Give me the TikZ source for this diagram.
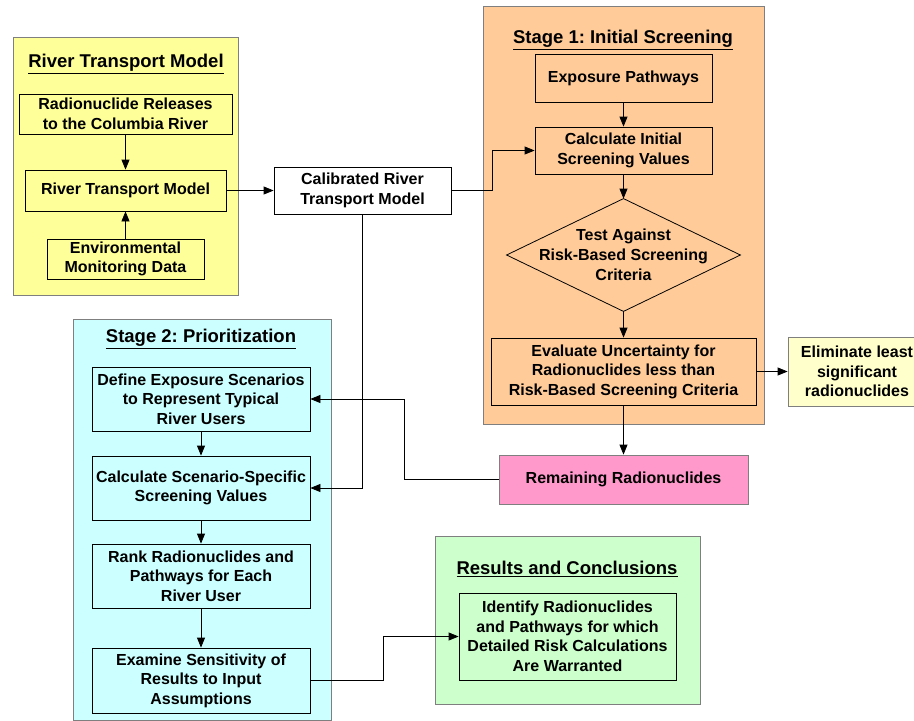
\documentclass[tikz,border=0pt]{standalone}
\usepackage{fontspec}
\setmainfont{Liberation Sans}
\usetikzlibrary{arrows.meta}
\frenchspacing
\definecolor{rtmyellow}{HTML}{FFFF99}
\definecolor{stageorange}{HTML}{FFCC99}
\definecolor{stagecyan}{HTML}{CCFFFF}
\definecolor{remainpink}{HTML}{FF99CC}
\definecolor{resgreen}{HTML}{CCFFCC}
\definecolor{elimyellow}{HTML}{FFFFCC}
\definecolor{framegray}{HTML}{7F7F7F}
\tikzset{
    frame/.style={draw=framegray, line width=0.9pt, inner sep=0pt},
    stepbox/.style={draw, line width=0.8pt, align=center, inner sep=0pt,
        font=\bfseries\fontsize{16}{19.5}\selectfont},
    title/.style={font=\bfseries\fontsize{18.5}{22}\selectfont, inner sep=0pt},
    flow/.style={line width=0.8pt, -{Triangle[length=10pt,width=8pt]}}
}
\begin{document}
\begin{tikzpicture}[x=1pt, y=-1pt]
            \useasboundingbox (0,0) rectangle (914,721);
            % river transport model
            \node [frame, fill=rtmyellow, minimum width=225, minimum height=258] (rtmframe) at (125.5,166) {};
            \node [title] (rtmtitle) at (126,64) {\underline{River Transport Model}};
            \node [stepbox, fill=rtmyellow, minimum width=213, minimum height=40] (releases) at (125.5,114) {Radionuclide Releases\\to the Columbia River};
            \node [stepbox, fill=rtmyellow, minimum width=201, minimum height=41] (rtm) at (125.5,190.5) {River Transport Model};
            \node [stepbox, fill=rtmyellow, minimum width=157, minimum height=40] (envdata) at (125.5,259) {Environmental\\Monitoring Data};
            \node [stepbox, fill=white, minimum width=177, minimum height=47] (calib) at (362.5,190.5) {Calibrated River\\Transport Model};
            % stage 1
            \node [frame, fill=stageorange, minimum width=281, minimum height=418] (s1frame) at (623.5,215) {};
            \node [title] (s1title) at (623,40) {\underline{Stage 1: Initial Screening}};
            \node [stepbox, minimum width=177, minimum height=48] (pathways) at (623.5,78) {Exposure Pathways};
            \node [stepbox, minimum width=177, minimum height=47] (calcinit) at (623.5,150.5) {Calculate Initial\\Screening Values};
            \node [stepbox, draw=none, minimum width=233, minimum height=112, font=\bfseries\fontsize{16}{20}\selectfont] (test) at (623.5,255) {Test Against\\Risk-Based Screening\\Criteria};
            \draw [line width=0.8pt] (test.north) -- (test.east) -- (test.south) -- (test.west) -- cycle;
            \node [stepbox, minimum width=265, minimum height=67] (evaluate) at (623.5,371.5) {Evaluate Uncertainty for\\Radionuclides less than\\Risk-Based Screening Criteria};
            \node [stepbox, draw=framegray, fill=elimyellow, minimum width=138, minimum height=69] (eliminate) at (857,371.5) {Eliminate least\\significant\\radionuclides};
            \node [stepbox, draw=framegray, fill=remainpink, minimum width=249, minimum height=49] (remaining) at (623.5,479.5) {Remaining Radionuclides};
            % stage 2
            \node [frame, fill=stagecyan, minimum width=258, minimum height=401] (s2frame) at (202,519.5) {};
            \node [title] (s2title) at (201,339) {\underline{Stage 2: Prioritization}};
            \node [stepbox, minimum width=218, minimum height=64] (define) at (201,399) {Define Exposure Scenarios\\to Represent Typical\\River Users};
            \node [stepbox, minimum width=218, minimum height=64] (calcscen) at (201,488) {Calculate Scenario-Specific\\Screening Values};
            \node [stepbox, minimum width=218, minimum height=64] (rank) at (201,576) {Rank Radionuclides and\\Pathways for Each\\River User};
            \node [stepbox, minimum width=218, minimum height=65] (examine) at (201,680.5) {Examine Sensitivity of\\Results to Input\\Assumptions};
            % results
            \node [frame, fill=resgreen, minimum width=265, minimum height=168] (resframe) at (567.5,620) {};
            \node [title] (restitle) at (567,569) {\underline{Results and Conclusions}};
            \node [stepbox, minimum width=217, minimum height=87] (identify) at (567.5,636.5) {Identify Radionuclides\\and Pathways for which\\Detailed Risk Calculations\\Are Warranted};
            % connectors
            \draw [flow] (releases) -- (rtm);
            \draw [flow] (envdata) -- (rtm);
            \draw [flow] (rtm) -- (calib);
            \draw [flow] (calib.east) -| ([xshift=-42pt]calcinit.west) -- (calcinit.west);
            \draw [flow] (pathways) -- (calcinit);
            \draw [flow] (calcinit) -- (test.north);
            \draw [flow] (test.south) -- (evaluate);
            \draw [flow] (evaluate) -- (eliminate);
            \draw [flow] (evaluate) -- (remaining);
            \draw [flow] (remaining.west) -| ([xshift=94pt]define.east) -- (define.east);
            \draw [flow] (calib.south) |- (calcscen.east);
            \draw [flow] (define) -- (calcscen);
            \draw [flow] (calcscen) -- (rank);
            \draw [flow] (rank) -- (examine);
            \draw [flow] (examine.east) -| ([xshift=-75pt]identify.west) -- (identify.west);
\end{tikzpicture}
\end{document}
